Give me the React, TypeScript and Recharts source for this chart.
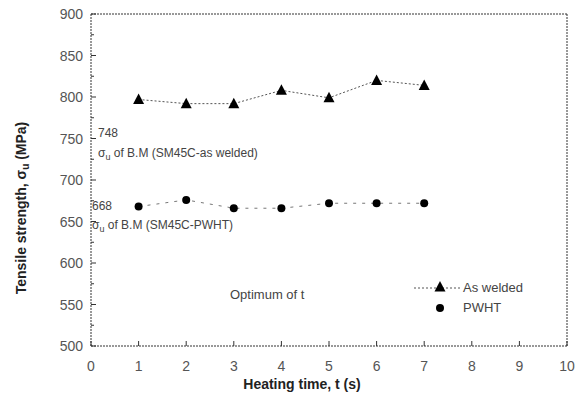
import React from 'react';
import { LineChart, Line, XAxis, YAxis, ReferenceLine, ResponsiveContainer } from 'recharts';

document.body.style.margin = '0';

const heatingTime = [1, 2, 3, 4, 5, 6, 7];
const asWelded = [797, 792, 792, 808, 799, 820, 814];
const pwht = [668, 676, 666, 666, 672, 672, 672];
const xTicks = [0, 1, 2, 3, 4, 5, 6, 7, 8, 9, 10];
const yTicks = [500, 525, 550, 575, 600, 625, 650, 675, 700, 725, 750, 775, 800, 825, 850, 875, 900];

const data = heatingTime.map((t, i) => ({ t, asWelded: asWelded[i], pwht: pwht[i] }));

const FONT = '"Liberation Sans", Arial, sans-serif';
const frame = '#333';

const Triangle = (props: any) => {
  const { cx, cy } = props;
  if (cx == null || cy == null) return null;
  return <path d={`M${cx},${cy - 6} L${cx + 5.5},${cy + 4.5} L${cx - 5.5},${cy + 4.5} Z`} fill="#000" />;
};

const Dot = (props: any) => {
  const { cx, cy } = props;
  if (cx == null || cy == null) return null;
  return <circle cx={cx} cy={cy} r={4} fill="#000" />;
};

// y ticks: label on majors, short inward line on all
const YTick = (props: any) => {
  const { x, y, payload } = props;
  const major = payload.value % 50 === 0;
  return (
    <g>
      <line x1={x} x2={x + (major ? 5 : 3)} y1={y} y2={y} stroke={frame} />
      {major && (
        <text x={x - 8} y={y} dy={5} textAnchor="end" fontSize={14} fill="#555" fontFamily={FONT}>
          {payload.value}
        </text>
      )}
    </g>
  );
};

const XTick = (props: any) => {
  const { x, y, payload } = props;
  return (
    <g>
      <line x1={x} x2={x} y1={y} y2={y - 5} stroke={frame} />
      <text x={x} y={y + 25} textAnchor="middle" fontSize={14} fill="#555" fontFamily={FONT}>
        {payload.value}
      </text>
    </g>
  );
};

const note: React.CSSProperties = {
  position: 'absolute',
  fontFamily: FONT,
  fontSize: 12,
  color: '#444',
  whiteSpace: 'nowrap',
  lineHeight: '14px',
};

const dotted = { stroke: frame, strokeDasharray: '2 1' };

export default function App() {
  return (
    <div style={{ position: 'relative', width: 584, height: 405, background: '#fff' }}>
      <ResponsiveContainer width={584} height={405}>
        <LineChart data={data} margin={{ top: 14, right: 17, bottom: 29, left: 31 }}>
          <XAxis
            dataKey="t"
            type="number"
            domain={[0, 10]}
            ticks={xTicks}
            height={30}
            tickSize={0}
            tickMargin={0}
            tickLine={false}
            tick={<XTick />}
            axisLine={dotted}
          />
          <YAxis
            type="number"
            domain={[500, 900]}
            ticks={yTicks}
            width={60}
            interval={0}
            tickSize={0}
            tickMargin={0}
            tickLine={false}
            tick={<YTick />}
            axisLine={dotted}
          />
          <ReferenceLine y={900} {...dotted} />
          <ReferenceLine x={10} {...dotted} />
          <Line
            dataKey="asWelded"
            stroke="#555"
            strokeWidth={1}
            strokeDasharray="2 2"
            dot={<Triangle />}
            isAnimationActive={false}
          />
          <Line
            dataKey="pwht"
            stroke="#777"
            strokeWidth={1}
            strokeDasharray="3 6"
            dot={<Dot />}
            isAnimationActive={false}
          />
        </LineChart>
      </ResponsiveContainer>

      <div style={{ ...note, left: 98, top: 126 }}>748</div>
      <div style={{ ...note, left: 98, top: 146 }}>
        σ<sub style={{ fontSize: 9 }}>u</sub> of B.M (SM45C-as welded)
      </div>
      <div style={{ ...note, left: 92, top: 199 }}>668</div>
      <div style={{ ...note, left: 92, top: 218 }}>
        σ<sub style={{ fontSize: 9 }}>u</sub> of B.M (SM45C-PWHT)
      </div>
      <div style={{ ...note, left: 230, top: 288, fontSize: 13 }}>Optimum of t</div>

      <svg style={{ position: 'absolute', left: 410, top: 278 }} width={60} height={40}>
        <line x1={4} x2={50} y1={10} y2={10} stroke="#555" strokeDasharray="2 2" />
        <Triangle cx={30} cy={9} />
        <Dot cx={30} cy={30} />
      </svg>
      <div style={{ ...note, left: 463, top: 281, fontSize: 13 }}>As welded</div>
      <div style={{ ...note, left: 463, top: 301, fontSize: 13 }}>PWHT</div>

      <div
        style={{
          position: 'absolute',
          left: 22,
          top: 208,
          transform: 'translate(-50%, -50%) rotate(-90deg)',
          fontFamily: FONT,
          fontSize: 14,
          fontWeight: 'bold',
          color: '#222',
          whiteSpace: 'nowrap',
        }}
      >
        Tensile strength, σ<sub style={{ fontSize: 10 }}>u</sub> (MPa)
      </div>
      <div
        style={{
          position: 'absolute',
          left: 302,
          top: 384,
          transform: 'translate(-50%, -50%)',
          fontFamily: FONT,
          fontSize: 14,
          fontWeight: 'bold',
          color: '#222',
          whiteSpace: 'nowrap',
        }}
      >
        Heating time, t (s)
      </div>
    </div>
  );
}
